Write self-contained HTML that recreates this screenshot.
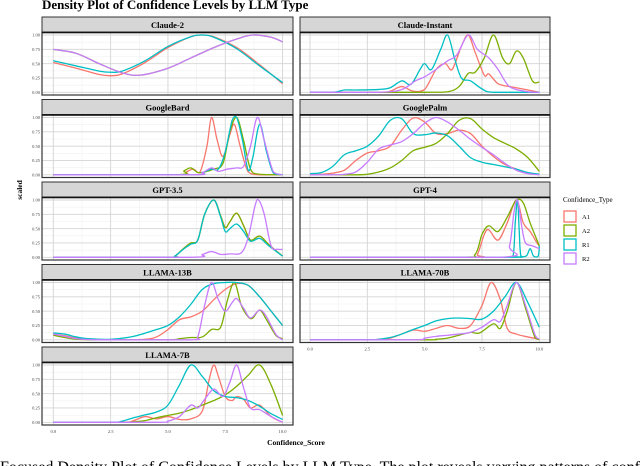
<!DOCTYPE html>
<html><head><meta charset="utf-8"><style>
html,body{margin:0;padding:0;background:#fff;width:640px;height:466px;overflow:hidden}
svg text{font-family:"Liberation Serif",serif}
</style></head><body>
<svg id="chart" width="640" height="466" viewBox="0 0 640 466" xmlns="http://www.w3.org/2000/svg">
<text x="42" y="9" font-size="13" font-weight="bold">Density Plot of Confidence Levels by LLM Type</text>
<text transform="translate(22,190) rotate(-90)" font-size="7.5" font-weight="bold" text-anchor="middle">scaled</text>
<text x="296" y="445" font-size="7.5" font-weight="bold" text-anchor="middle">Confidence_Score</text>
<g>
<text x="563" y="202" font-size="7">Confidence_Type</text>
</g>
<text x="0" y="472" font-size="16">Focused Density Plot of Confidence Levels by LLM Type. The plot reveals varying patterns of conf</text>
</svg>
<script>
const panelNames=["Claude-2","Claude-Instant","GoogleBard","GooglePalm","GPT-3.5","GPT-4","LLAMA-13B","LLAMA-70B","LLAMA-7B"];
const seriesNames=["A1","A2","R1","R2"];
const xTicks=[0,2.5,5,7.5,10];
const xTickLabels=["0.0","2.5","5.0","7.5","10.0"];
const yTicks=[0,0.25,0.5,0.75,1];
const yTickLabels=["0.00","0.25","0.50","0.75","1.00"];
const claude2A1=[[0,0.52],[1,0.42],[2,0.31],[2.5,0.29],[3,0.32],[4,0.52],[5,0.78],[6,0.97],[6.5,1.0],[7,0.97],[8,0.78],[9,0.48],[10,0.15]];
const claude2A2=[[0,0.75],[1,0.68],[2,0.5],[3,0.34],[3.8,0.3],[5,0.42],[6,0.6],[7,0.78],[8,0.93],[8.7,1.0],[9.5,0.96],[10,0.88]];
const claude2R1=[[0,0.55],[1,0.46],[2,0.37],[2.5,0.35],[3,0.37],[4,0.55],[5,0.8],[6,0.97],[6.5,1.0],[7,0.96],[8,0.76],[9,0.46],[10,0.17]];
const claude2R2=[[0,0.75],[1,0.68],[2,0.5],[3,0.34],[3.8,0.3],[5,0.42],[6,0.6],[7,0.78],[8,0.93],[8.7,1.0],[9.5,0.96],[10,0.88]];
const instA1=[[0,0],[3,0],[3.5,0.02],[4,0.1],[4.5,0.02],[5,0.05],[5.5,0.4],[5.9,0.5],[6.2,0.4],[6.6,0.8],[6.9,1.0],[7.2,0.7],[7.6,0.3],[7.8,0.32],[8.2,0.15],[8.7,0.1],[9,0.08],[10,0]];
const instA2=[[0,0],[5,0],[6,0.01],[6.5,0.1],[6.9,0.33],[7.2,0.35],[7.6,0.6],[8.0,1.0],[8.4,0.6],[8.7,0.5],[9.0,0.72],[9.3,0.6],[9.7,0.2],[10,0.18]];
const instR1=[[0,0],[1,0],[1.5,0.04],[2,0.04],[3,0.05],[3.5,0.08],[4,0.2],[4.4,0.14],[4.8,0.4],[5.0,0.5],[5.3,0.4],[5.7,0.75],[6.0,1.0],[6.3,0.6],[6.6,0.25],[7.0,0.2],[7.5,0.06],[8,0],[10,0]];
const instR2=[[0,0],[3,0],[4,0.05],[4.6,0.2],[5,0.27],[5.5,0.4],[6,0.55],[6.4,0.65],[6.9,1.0],[7.3,0.75],[7.8,0.6],[8.2,0.4],[8.7,0.1],[9.5,0.01],[10,0]];
const bardA1=[[0,0],[5.3,0],[5.8,0.05],[6.1,0.1],[6.4,0.05],[6.7,0.5],[6.9,1.0],[7.15,0.6],[7.4,0.32],[7.7,0.7],[7.9,0.88],[8.15,0.5],[8.5,0.05],[9,0],[10,0]];
const bardA2=[[0,0],[5.3,0],[5.7,0.07],[6.0,0.12],[6.3,0.04],[6.6,0.05],[7.0,0.1],[7.4,0.2],[7.7,0.75],[8.0,1.0],[8.3,0.6],[8.6,0.1],[9,0.01],[10,0]];
const bardR1=[[0,0],[6,0],[6.5,0.04],[6.9,0.1],[7.2,0.1],[7.5,0.4],[7.8,0.95],[8.0,1.0],[8.25,0.6],[8.5,0.08],[8.7,0.3],[9.0,0.88],[9.3,0.4],[9.6,0.03],[10,0]];
const bardR2=[[0,0],[6,0],[6.5,0.04],[6.9,0.12],[7.2,0.06],[7.6,0.1],[8.0,0.12],[8.3,0.15],[8.6,0.5],[8.9,1.0],[9.2,0.6],[9.6,0.05],[10,0]];
const palmA1=[[0,0],[0.5,0.01],[1,0.03],[1.5,0.08],[2,0.25],[2.5,0.38],[3,0.42],[3.5,0.5],[4,0.78],[4.5,0.99],[5,0.92],[5.5,0.72],[6,0.72],[6.5,0.78],[7,0.72],[7.5,0.5],[8,0.32],[8.5,0.18],[9,0.1],[9.5,0.03],[10,0.01]];
const palmA2=[[0,0],[2,0],[2.5,0.01],[3,0.05],[3.5,0.12],[4,0.25],[4.5,0.42],[5,0.48],[5.5,0.55],[6,0.72],[6.5,0.95],[7,0.98],[7.5,0.8],[8,0.65],[8.5,0.55],[9,0.45],[9.5,0.3],[10,0.06]];
const palmR1=[[0,0.02],[0.5,0.04],[1,0.15],[1.5,0.35],[2,0.42],[2.5,0.5],[3,0.68],[3.5,0.95],[4,0.98],[4.5,0.72],[5,0.7],[5.5,0.73],[6,0.68],[6.5,0.5],[7,0.3],[7.5,0.22],[8,0.18],[8.5,0.14],[9,0.1],[9.5,0.04],[10,0.01]];
const palmR2=[[0,0],[1,0],[1.5,0.01],[2,0.05],[2.5,0.22],[3,0.45],[3.5,0.52],[4,0.58],[4.5,0.72],[5,0.9],[5.5,1.0],[6,0.92],[6.5,0.78],[7,0.62],[7.5,0.48],[8,0.35],[8.5,0.2],[9,0.08],[9.5,0.02],[10,0]];
const gpt35A1=[[0,0],[5,0],[5.3,0.02],[5.7,0.16],[6.0,0.25],[6.3,0.3],[6.6,0.75],[7.0,1.0],[7.3,0.72],[7.5,0.52],[7.7,0.62],[8.0,0.77],[8.3,0.55],[8.6,0.3],[9.0,0.37],[9.4,0.22],[10,0.02]];
const gpt35A2=[[0,0],[5,0],[5.3,0.02],[5.7,0.16],[6.0,0.25],[6.3,0.3],[6.6,0.75],[7.0,1.0],[7.3,0.72],[7.5,0.52],[7.7,0.62],[8.0,0.77],[8.3,0.55],[8.6,0.3],[9.0,0.37],[9.4,0.22],[10,0.02]];
const gpt35R1=[[0,0],[5,0],[5.3,0.02],[5.7,0.15],[6.0,0.23],[6.3,0.3],[6.6,0.75],[7.0,1.0],[7.3,0.7],[7.5,0.45],[7.7,0.5],[8.0,0.58],[8.3,0.45],[8.6,0.28],[9.0,0.33],[9.4,0.2],[10,0.02]];
const gpt35R2=[[0,0],[6,0],[6.5,0.05],[6.9,0.1],[7.3,0.05],[7.7,0.06],[8.2,0.08],[8.5,0.35],[8.8,0.9],[8.95,1.0],[9.2,0.75],[9.5,0.2],[9.8,0.14],[10,0.14]];
const gpt4A1=[[0,0],[7,0],[7.3,0.05],[7.6,0.4],[7.8,0.48],[8.2,0.3],[8.6,0.6],[9.0,1.0],[9.3,0.6],[9.6,0.45],[9.9,0.25],[10,0.2]];
const gpt4A2=[[0,0],[6.5,0],[7.2,0.05],[7.5,0.4],[7.8,0.55],[8.2,0.45],[8.6,0.7],[9.0,1.0],[9.3,0.95],[9.6,0.6],[9.9,0.3],[10,0.2]];
const gpt4R1=[[0,0],[8.5,0],[8.85,0.02],[8.95,0.6],[9.05,1.0],[9.12,0.5],[9.2,0.02],[9.45,0.03],[9.6,0.15],[9.75,0.02],[9.95,0.02],[10,0.2]];
const gpt4R2=[[0,0],[8.3,0],[8.7,0.2],[8.9,0.8],[9.05,1.0],[9.25,0.5],[9.4,0.25],[9.7,0.2],[10,0.15]];
const l13A1=[[0,0.1],[0.5,0.07],[1,0.03],[1.5,0.01],[3,0],[4,0.01],[4.5,0.05],[5,0.18],[5.5,0.35],[6,0.4],[6.5,0.5],[7,0.7],[7.5,0.88],[8,0.98],[8.5,0.95],[9,0.75],[9.5,0.5],[10,0.25]];
const l13A2=[[0,0.08],[0.5,0.04],[1,0.01],[2,0],[5,0],[5.5,0.02],[6,0.04],[6.5,0.05],[6.9,0.18],[7.3,0.22],[7.6,0.7],[7.9,1.0],[8.2,0.6],[8.5,0.4],[8.7,0.38],[9,0.52],[9.3,0.35],[9.7,0.08],[10,0.02]];
const l13R1=[[0,0.12],[0.5,0.1],[1,0.05],[1.5,0.02],[2.5,0.01],[3.5,0.06],[4.5,0.18],[5,0.25],[5.5,0.4],[6,0.62],[6.5,0.88],[7,0.98],[7.5,1.0],[8,1.0],[8.5,0.95],[9,0.75],[9.5,0.5],[10,0.25]];
const l13R2=[[0,0.1],[0.5,0.06],[1,0.02],[2,0],[6,0],[6.3,0.05],[6.6,0.6],[6.9,1.0],[7.2,0.7],[7.5,0.5],[7.8,0.65],[8.0,0.72],[8.3,0.55],[8.6,0.38],[9,0.52],[9.3,0.4],[9.7,0.1],[10,0]];
const l70A1=[[0,0],[2.5,0],[3,0.01],[3.5,0.03],[4,0.1],[4.5,0.17],[5,0.15],[5.5,0.2],[6,0.25],[6.5,0.2],[7,0.25],[7.5,0.6],[7.9,1.0],[8.3,0.7],[8.6,0.2],[9,0.1],[9.5,0.05],[10,0.01]];
const l70A2=[[0,0],[5,0],[5.5,0.01],[6,0.03],[6.5,0.08],[7,0.13],[7.4,0.12],[8,0.28],[8.3,0.2],[8.6,0.5],[9,1.0],[9.4,0.55],[9.8,0.05],[10,0]];
const l70R1=[[0,0],[2.5,0],[3,0.01],[3.5,0.04],[4,0.1],[4.5,0.18],[5,0.25],[5.5,0.33],[6,0.37],[6.5,0.38],[7,0.37],[7.5,0.36],[8,0.5],[8.5,0.75],[9,1.0],[9.5,0.65],[10,0.22]];
const l70R2=[[0,0],[4.5,0],[5,0.03],[5.5,0.06],[6,0.08],[6.5,0.1],[7,0.13],[7.5,0.22],[8,0.35],[8.3,0.32],[8.6,0.6],[9,1.0],[9.4,0.6],[9.8,0.1],[10,0.01]];
const l7A1=[[0,0],[3,0],[3.5,0.03],[4,0.1],[4.5,0.06],[5,0.1],[5.5,0.05],[6,0.06],[6.5,0.2],[6.8,0.75],[7,1.0],[7.2,0.8],[7.5,0.45],[7.8,0.38],[8,0.45],[8.3,0.4],[8.6,0.25],[9,0.3],[9.5,0.1],[10,0]];
const l7A2=[[0,0],[3,0],[3.5,0.01],[4,0.03],[4.5,0.08],[5,0.12],[5.5,0.16],[6,0.22],[6.5,0.3],[7,0.38],[7.5,0.48],[8,0.63],[8.5,0.82],[9,1.0],[9.5,0.65],[10,0.12]];
const l7R1=[[0,0],[2.5,0],[3,0.02],[3.5,0.08],[4,0.13],[4.5,0.18],[5,0.3],[5.5,0.65],[6,1.0],[6.5,0.8],[7,0.55],[7.5,0.45],[8,0.43],[8.5,0.38],[9,0.28],[9.5,0.15],[10,0.05]];
const l7R2=[[0,0],[4.5,0],[5,0.02],[5.5,0.1],[6,0.3],[6.3,0.25],[6.6,0.4],[7,0.58],[7.4,0.45],[7.7,0.7],[8,1.0],[8.3,0.6],[8.6,0.25],[9,0.22],[9.5,0.1],[10,0]];
const panelSeries=[[claude2A1,claude2A2,claude2R1,claude2R2],[instA1,instA2,instR1,instR2],[bardA1,bardA2,bardR1,bardR2],[palmA1,palmA2,palmR1,palmR2],[gpt35A1,gpt35A2,gpt35R1,gpt35R2],[gpt4A1,gpt4A2,gpt4R1,gpt4R2],[l13A1,l13A2,l13R1,l13R2],[l70A1,l70A2,l70R1,l70R2],[l7A1,l7A2,l7R1,l7R2]];
const colors=["#F8766D","#7CAE00","#00BFC4","#C77CFF"];
const NS="http://www.w3.org/2000/svg";
const svg=document.getElementById('chart');
function mk(tag,attrs,parent){const e=document.createElementNS(NS,tag);for(const k in attrs)e.setAttribute(k,attrs[k]);(parent||svg).appendChild(e);return e;}
const rowTops=[17,99.5,182,264.5,347];
const colLefts=[42,300];
const colWidths=[251,250];
panelNames.forEach((name,i)=>{
  const col=i%2,row=Math.floor(i/2);
  const L=colLefts[col],W=colWidths[col],T=rowTops[row];
  const x0=L+(col===0?11.3:10),unit=22.93;
  const xs=v=>x0+v*unit;
  const ys=v=>T+75.3-v*57.3;
  const g=mk('g',{});
  
  
  const bg=mk('rect',{x:L,y:T+15.5,width:W,height:62.5,fill:'#fff'},g);
  
  
  for(let k=0;k<4;k++){const v=1.25+k*2.5;mk('line',{x1:xs(v),x2:xs(v),y1:T+15.5,y2:T+78,stroke:'#f0f0f0','stroke-width':0.6},g);}
  for(let k=0;k<4;k++){const v=0.125+k*0.25;mk('line',{x1:L,x2:L+W,y1:ys(v),y2:ys(v),stroke:'#f0f0f0','stroke-width':0.6},g);}
  xTicks.forEach(v=>mk('line',{x1:xs(v),x2:xs(v),y1:T+15.5,y2:T+78,stroke:'#d4d4d4','stroke-width':0.9},g));
  yTicks.forEach(v=>mk('line',{x1:L,x2:L+W,y1:ys(v),y2:ys(v),stroke:'#d4d4d4','stroke-width':0.9},g));
  panelSeries[i].forEach((pts,s)=>{
    const P=pts.map(p=>[xs(p[0]),ys(p[1])]);
    let d='M'+P[0][0].toFixed(2)+','+P[0][1].toFixed(2);
    const y0=ys(0),ytop=ys(1.03);
    for(let j=0;j<P.length-1;j++){
      const p0=P[Math.max(0,j-1)],p1=P[j],p2=P[j+1],p3=P[Math.min(P.length-1,j+2)];
      const c1=[p1[0]+(p2[0]-p0[0])/6,Math.min(y0,Math.max(ytop,p1[1]+(p2[1]-p0[1])/6))];
      const c2=[p2[0]-(p3[0]-p1[0])/6,Math.min(y0,Math.max(ytop,p2[1]-(p3[1]-p1[1])/6))];
      d+=' C'+c1[0].toFixed(2)+','+c1[1].toFixed(2)+' '+c2[0].toFixed(2)+','+c2[1].toFixed(2)+' '+p2[0].toFixed(2)+','+p2[1].toFixed(2);
    }
    const path=mk('path',{d:d,fill:'none',stroke:colors[s],'stroke-width':1.3},g);
    
    
  });
  const fr=mk('rect',{x:L,y:T+15.5,width:W,height:62.5,fill:'none',stroke:'#333','stroke-width':1.2},g);
  
  
  const st=mk('rect',{x:L,y:T,width:W,height:15,fill:'#d6d6d6',stroke:'#333','stroke-width':1},g);
  
  
  mk('line',{x1:L,x2:L+W,y1:T+15.5,y2:T+15.5,stroke:'#111','stroke-width':1.5},g);
  const lab=mk('text',{x:L+W/2,y:T+11,'font-size':8.5,'font-weight':'bold','text-anchor':'middle'},g);
  lab.textContent=name;
  
  
  if(col===0){
    yTicks.forEach((v,k)=>{const t=mk('text',{x:L-2,y:ys(v)+1.6,'font-size':4.5,fill:'#444','text-anchor':'end'},g);t.textContent=yTickLabels[k];
      
      });
  }
  if(i===7||i===8){
    xTicks.forEach((v,k)=>{const t=mk('text',{x:xs(v),y:T+86,'font-size':4.5,fill:'#444','text-anchor':'middle'},g);t.textContent=xTickLabels[k];
      
      });
  }
});
seriesNames.forEach((n,k)=>{
  const y=211+k*14;
  const r=mk('rect',{x:564,y:y,width:12,height:11,fill:'#fff',stroke:colors[k],'stroke-width':1.3});
  
  
  const t=mk('text',{x:582,y:y+8,'font-size':6.5});
  t.textContent=n;
  
  
});
</script>
</body></html>
